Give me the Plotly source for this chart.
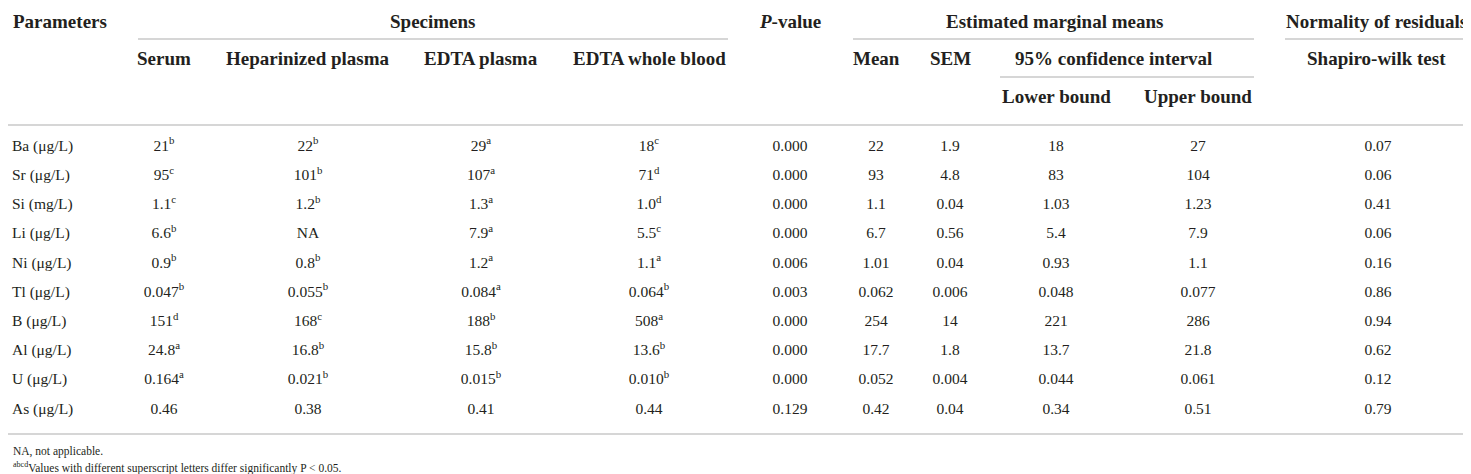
import plotly.graph_objects as go

# table contents
parameters = ["Ba (μg/L)", "Sr (μg/L)", "Si (mg/L)", "Li (μg/L)", "Ni (μg/L)",
              "Tl (μg/L)", "B (μg/L)", "Al (μg/L)", "U (μg/L)", "As (μg/L)"]

serum = ["21", "95", "1.1", "6.6", "0.9", "0.047", "151", "24.8", "0.164", "0.46"]
serum_sig = ["b", "c", "c", "b", "b", "b", "d", "a", "a", ""]
heparin = ["22", "101", "1.2", "NA", "0.8", "0.055", "168", "16.8", "0.021", "0.38"]
heparin_sig = ["b", "b", "b", "", "b", "b", "c", "b", "b", ""]
edta_plasma = ["29", "107", "1.3", "7.9", "1.2", "0.084", "188", "15.8", "0.015", "0.41"]
edta_plasma_sig = ["a", "a", "a", "a", "a", "a", "b", "b", "b", ""]
edta_blood = ["18", "71", "1.0", "5.5", "1.1", "0.064", "508", "13.6", "0.010", "0.44"]
edta_blood_sig = ["c", "d", "d", "c", "a", "b", "a", "b", "b", ""]

p_values = ["0.000", "0.000", "0.000", "0.000", "0.006", "0.003", "0.000", "0.000", "0.000", "0.129"]
means = ["22", "93", "1.1", "6.7", "1.01", "0.062", "254", "17.7", "0.052", "0.42"]
sems = ["1.9", "4.8", "0.04", "0.56", "0.04", "0.006", "14", "1.8", "0.004", "0.04"]
lower = ["18", "83", "1.03", "5.4", "0.93", "0.048", "221", "13.7", "0.044", "0.34"]
upper = ["27", "104", "1.23", "7.9", "1.1", "0.077", "286", "21.8", "0.061", "0.51"]
shapiro = ["0.07", "0.06", "0.41", "0.06", "0.16", "0.86", "0.94", "0.62", "0.12", "0.79"]

footnotes = ["NA, not applicable.",
             "<sup>abcd</sup>Values with different superscript letters differ significantly P < 0.05."]

# layout (pixel coordinates of the page)
W, H = 1471, 474
FONT = "Liberation Serif"
INK = "#231f20"
RULE = "#c8c8c8"
row_y0, row_step = 139, 29.2


def with_sup(vals, sig):
    return [v + ("<sup>%s</sup>" % s if s else "") for v, s in zip(vals, sig)]


columns = [
    (156, with_sup(serum, serum_sig)),
    (300, with_sup(heparin, heparin_sig)),
    (473, with_sup(edta_plasma, edta_plasma_sig)),
    (641, with_sup(edta_blood, edta_blood_sig)),
    (782, p_values),
    (868, means),
    (942, sems),
    (1048, lower),
    (1190, upper),
    (1370, shapiro),
]

rows_y = [row_y0 + i * row_step for i in range(len(parameters))]

fig = go.Figure()

fig.add_trace(go.Scatter(
    x=[4] * len(parameters), y=rows_y, text=parameters, mode="text",
    textposition="middle right", textfont=dict(family=FONT, size=15.5, color=INK),
    hoverinfo="skip", showlegend=False))

for cx, vals in columns:
    fig.add_trace(go.Scatter(
        x=[cx] * len(vals), y=rows_y, text=vals, mode="text",
        textposition="middle center", textfont=dict(family=FONT, size=15.5, color=INK),
        hoverinfo="skip", showlegend=False))

# header texts: (x, y, text, anchor)
headers = [
    (3, 13, "Parameters", "left"),
    (425, 13, "Specimens", "center"),
    (782, 13, "<i>P</i>-value", "center"),
    (1046, 13, "Estimated marginal means", "center"),
    (1368, 13, "Normality of residuals", "center"),
    (156, 50, "Serum", "center"),
    (300, 50, "Heparinized plasma", "center"),
    (473, 50, "EDTA plasma", "center"),
    (641, 50, "EDTA whole blood", "center"),
    (868, 50, "Mean", "center"),
    (942, 50, "SEM", "center"),
    (1105, 50, "95% confidence interval", "center"),
    (1368, 50, "Shapiro-wilk test", "center"),
    (1048, 88, "Lower bound", "center"),
    (1190, 88, "Upper bound", "center"),
]

annotations = []
for x, y, t, anc in headers:
    annotations.append(dict(x=x, y=y, text="<b>%s</b>" % t, xanchor=anc, yanchor="middle",
                            showarrow=False, font=dict(family=FONT, size=19, color=INK)))

for i, t in enumerate(footnotes):
    annotations.append(dict(x=3, y=443 + i * 16, text=t, xanchor="left", yanchor="middle",
                            showarrow=False, font=dict(family=FONT, size=11.5, color=INK)))

# rules: (x0, x1, y)
rules = [(130, 720, 31), (845, 1246, 31), (1277, 1466, 31),
         (992, 1246, 69), (0, W, 117), (0, W, 426)]
shapes = [dict(type="line", x0=a, x1=b, y0=y, y1=y, line=dict(color=RULE, width=1.5))
          for a, b, y in rules]

fig.update_layout(
    width=W, height=H,
    margin=dict(l=0, r=0, t=0, b=0),
    paper_bgcolor="white", plot_bgcolor="white",
    xaxis=dict(range=[0, W], visible=False, fixedrange=True),
    yaxis=dict(range=[H, 0], visible=False, fixedrange=True),
    annotations=annotations, shapes=shapes,
)

fig.write_html("out.html", config={"displayModeBar": False})
